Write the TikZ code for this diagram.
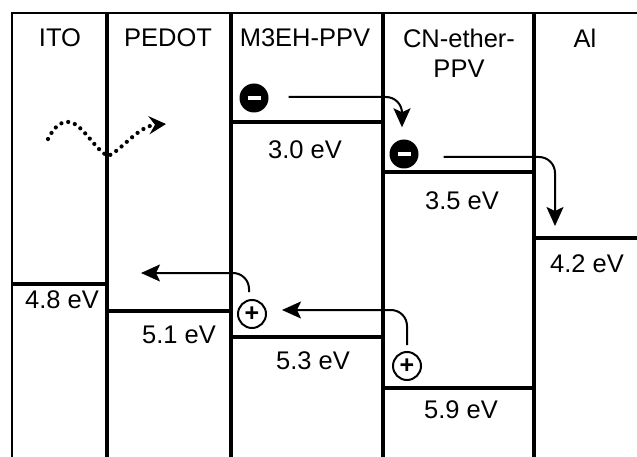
\documentclass[tikz,border=0pt]{standalone}
\usepackage{fontspec}
\setmainfont{Liberation Sans}
\usetikzlibrary{arrows.meta}
\tikzset{
  layer/.style   ={font=\fontsize{25.5}{30}\selectfont, align=center, inner sep=0pt},
  energy/.style  ={font=\fontsize{25.5}{30}\selectfont, inner sep=0pt},
  wall/.style    ={line width=3.4pt},
  level/.style   ={line width=4pt},
  electron/.style={circle, fill=black, minimum size=29pt, inner sep=0pt},
  hole/.style    ={circle, draw, line width=2pt, minimum size=28pt, inner sep=0pt,
    font=\fontsize{25}{25}\selectfont\bfseries},
  arrow/.style   ={line width=2pt, rounded corners=16pt,
    -{Stealth[length=19pt, width=17pt, inset=4pt]}},
  photon/.style  ={line width=4.2pt, line cap=round, dash pattern=on 0pt off 7pt,
    -{Stealth[length=17pt, width=18pt, inset=6pt]}},
}

\begin{document}
\begin{tikzpicture}[x=1pt, y=-1pt]
  \useasboundingbox (0,0) rectangle (637,457);

  % frame and layer walls
  \draw[line width=2.2pt] (12,457) -- (12,13) -- (637,13);
  \draw[wall] (107,13) -- (107,457);
  \draw[wall] (231,13) -- (231,457);
  \draw[wall] (383,13) -- (383,457);
  \draw[wall] (534,13) -- (534,457);

  % layer names
  \node[layer] (ito)   at (60,38)   {ITO};
  \node[layer] (pedot) at (168,38)  {PEDOT};
  \node[layer] (meh)   at (305,38)  {M3EH-PPV};
  \node[layer] (cn)    at (459,53)  {CN-ether-\\PPV};
  \node[layer] (al)    at (585,38)  {Al};

  % energy levels
  \draw[level] (12,284)  -- (107,284);
  \draw[level] (107,311) -- (231,311);
  \draw[level] (231,122) -- (383,122);
  \draw[level] (231,337) -- (383,337);
  \draw[level] (383,172) -- (534,172);
  \draw[level] (383,388) -- (534,388);
  \draw[level] (534,238) -- (637,238);

  \node[energy] (ito48)   at (62,300)  {4.8 eV};
  \node[energy] (pedot51) at (179,335) {5.1 eV};
  \node[energy] (meh30)   at (305,150) {3.0 eV};
  \node[energy] (meh53)   at (313,361) {5.3 eV};
  \node[energy] (cn35)    at (462,201) {3.5 eV};
  \node[energy] (cn59)    at (461,410) {5.9 eV};
  \node[energy] (al42)    at (587,264) {4.2 eV};

  % carriers
  \node[electron] (e1) at (254,98)  {\textcolor{white}{\rule[-2.2pt]{13pt}{4.4pt}}};
  \node[electron] (e2) at (404,154) {\textcolor{white}{\rule[-2.2pt]{13pt}{4.4pt}}};
  \node[hole]     (h1) at (252,314) {+};
  \node[hole]     (h2) at (407,366) {+};

  \coordinate (edrop) at (555,226);
  \coordinate (hito)  at (141,273);

  % electron and hole transfer
  \draw[arrow] ([xshift=20pt,yshift=1pt]e1.east) -| ([xshift=-2pt,yshift=12pt]e2.north);
  \draw[arrow] ([xshift=25pt,yshift=-3pt]e2.east) -| (edrop);
  \draw[arrow] ([yshift=6pt]h2.north) |- ([xshift=15pt,yshift=4pt]h1.east);
  \draw[arrow] ([xshift=-3pt,yshift=7pt]h1.north) |- (hito);

  % incoming light
  \coordinate (ph0) at (48,139);
  \coordinate (ph1) at (69,122);
  \coordinate (ph2) at (108,156);
  \coordinate (ph3) at (166,124);
  \draw[photon] (ph0) .. controls (54,127) and (61,121) .. (ph1)
    .. controls (82,123) and (95,150) .. (ph2)
    .. controls (122,150) and (138,126) .. (ph3);

\end{tikzpicture}
\end{document}
